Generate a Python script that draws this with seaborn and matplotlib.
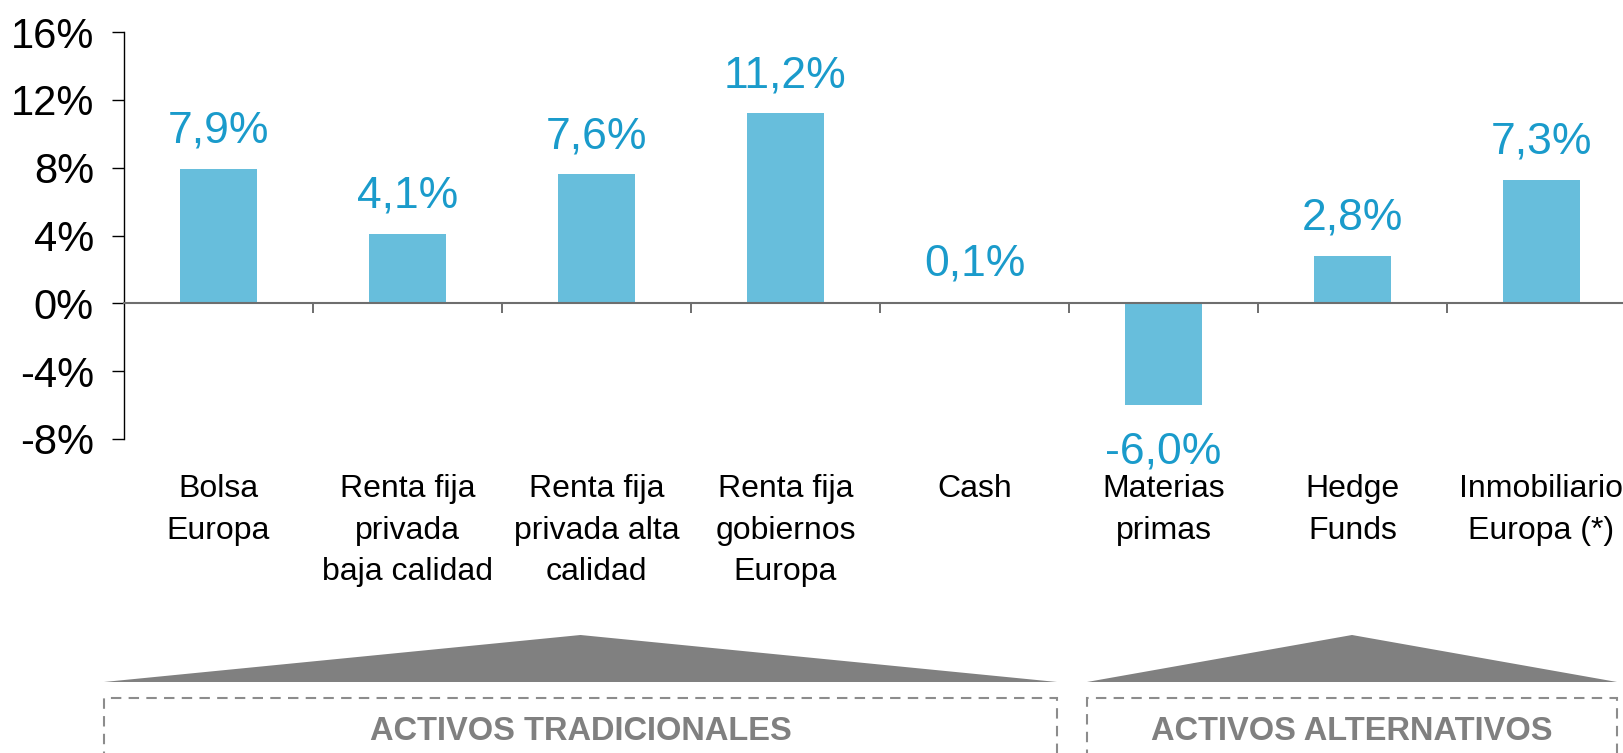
import numpy as np
import pandas as pd
import matplotlib
matplotlib.use("Agg")
import matplotlib.pyplot as plt
import seaborn as sns
from matplotlib.patches import Polygon, Rectangle

# Data
categories = ["Bolsa\nEuropa", "Renta fija\nprivada\nbaja calidad", "Renta fija\nprivada alta\ncalidad",
              "Renta fija\ngobiernos\nEuropa", "Cash", "Materias\nprimas", "Hedge\nFunds",
              "Inmobiliario\nEuropa (*)"]
returns = [7.9, 4.1, 7.6, 11.2, 0.1, -6.0, 2.8, 7.3]
y_ticks = [-8, -4, 0, 4, 8, 12, 16]
groups = ["ACTIVOS TRADICIONALES", "ACTIVOS ALTERNATIVOS"]

sns.set_style("white")
plt.rcParams['font.family'] = ['Liberation Sans', 'DejaVu Sans']

bar_color = "#67BEDC"
label_color = "#1A9BCB"
gray = "#808080"

W, H = 1624, 753
fig = plt.figure(figsize=(W / 100, H / 100), dpi=100)
ax = fig.add_axes([124 / W, 1 - 439 / H, 1512 / W, (439 - 32) / H])

df = pd.DataFrame({"cat": categories, "ret": returns})
sns.barplot(data=df, x="cat", y="ret", color=bar_color, width=0.41,
            saturation=1, ax=ax, linewidth=0, edgecolor="none", zorder=2)

ax.set_xlim(-0.5, len(categories) - 0.5)
ax.set_ylim(-8, 16)
ax.set_xlabel("")
ax.set_ylabel("")

# y axis
ax.set_yticks(y_ticks)
ax.set_yticklabels([f"{v}%" for v in y_ticks], fontsize=30)
ax.tick_params(axis="y", left=True, direction="out", length=8.6, width=1,
               color="black", labelcolor="black", pad=13)

# x axis: spine at zero, boundary ticks, labels far below
for s in ["top", "right"]:
    ax.spines[s].set_visible(False)
ax.spines["left"].set_color("black")
ax.spines["left"].set_linewidth(1)
ax.spines["bottom"].set_position(("data", 0))
ax.spines["bottom"].set_color("#6e6e6e")
ax.spines["bottom"].set_linewidth(1.5)
ax.set_xticks(np.arange(len(categories)))
ax.set_xticklabels(categories, fontsize=23, linespacing=1.5)
ax.tick_params(axis="x", which="major", length=0, pad=123, labelcolor="black")
ax.set_xticks(np.arange(0.5, len(categories), 1), minor=True)
ax.tick_params(axis="x", which="minor", bottom=True, direction="out", length=7,
               width=1.2, color="#555555")

# value labels
for i, v in enumerate(returns):
    txt = f"{v:.1f}%".replace(".", ",")
    if v >= 0:
        ax.annotate(txt, (i, v), xytext=(0, 19), textcoords="offset points",
                    ha="center", va="baseline", fontsize=32, color=label_color)
    else:
        ax.annotate(txt, (i, v), xytext=(0, -19), textcoords="offset points",
                    ha="center", va="top", fontsize=32, color=label_color)

# group markers below the chart (figure pixel coords)
def fp(x, y):
    return (x / W, 1 - y / H)

spans = [(104, 1057), (1087, 1617)]
for (x0, x1), name in zip(spans, groups):
    xc = (x0 + x1) / 2
    tri = Polygon([fp(x0, 682), fp(xc, 635), fp(x1, 682)], closed=True,
                  transform=fig.transFigure, facecolor=gray, edgecolor="none")
    fig.patches.append(tri)
    box = Rectangle(fp(x0, 790), (x1 - x0) / W, (790 - 698) / H,
                    transform=fig.transFigure, fill=False, edgecolor="#8c8c8c",
                    linewidth=1.5, linestyle=(0, (5, 3.5)))
    fig.patches.append(box)
    fig.text(*fp(xc, 731), name, ha="center", va="center", fontsize=23.5,
             fontweight="bold", color=gray)

fig.savefig("out.png", dpi=100)
